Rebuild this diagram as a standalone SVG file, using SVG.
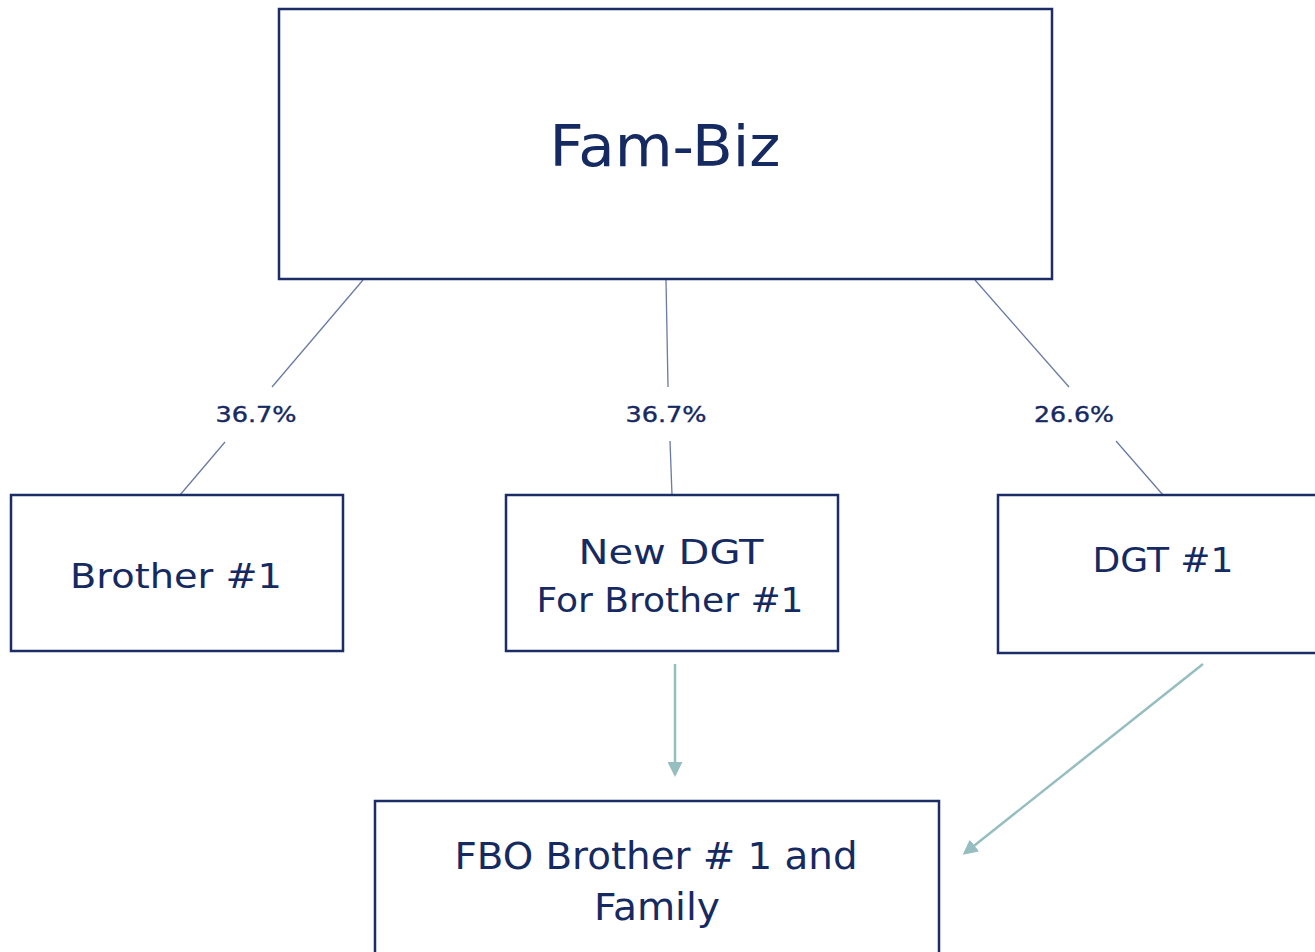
<svg xmlns="http://www.w3.org/2000/svg" width="1315" height="952" viewBox="0 0 1315 952">
  <style>
    .box { fill: #ffffff; stroke: #1b2c66; stroke-width: 2.5; }
    .label { fill: #162a62; font-family: "DejaVu Sans", Verdana, sans-serif; text-anchor: middle; }
    .pct { fill: #162a62; font-family: "DejaVu Sans", Verdana, sans-serif; font-size: 22px; text-anchor: middle; stroke: #162a62; stroke-width: 0.4; }
    .link { stroke: #6c7aa3; stroke-width: 1.3; fill: none; }
    .flow { stroke: #96bec1; stroke-width: 2.5; fill: none; marker-end: url(#head); }
  </style>
  <defs>
    <marker id="head" viewBox="0 0 10 10" refX="8" refY="5" markerWidth="6" markerHeight="6" markerUnits="strokeWidth" orient="auto">
      <path d="M0,0 L10,5 L0,10 z" fill="#96bec1"/>
    </marker>
  </defs>
  <rect width="1315" height="952" fill="#ffffff"/>

  <g id="connectors">
    <!-- ownership links, broken around their percentage labels -->
    <line class="link" x1="363" y1="280" x2="272" y2="387"/>
    <line class="link" x1="225" y1="442" x2="180" y2="495"/>
    <text class="pct" x="256" y="422" textLength="81" lengthAdjust="spacingAndGlyphs">36.7%</text>

    <line class="link" x1="666" y1="280" x2="668" y2="387"/>
    <line class="link" x1="670" y1="441" x2="672" y2="495"/>
    <text class="pct" x="666" y="422" textLength="81" lengthAdjust="spacingAndGlyphs">36.7%</text>

    <line class="link" x1="975" y1="280" x2="1069" y2="387"/>
    <line class="link" x1="1116" y1="441" x2="1163" y2="495"/>
    <text class="pct" x="1074" y="422" textLength="80" lengthAdjust="spacingAndGlyphs">26.6%</text>

    <!-- beneficiary flows -->
    <line class="flow" x1="675" y1="664" x2="675" y2="774"/>
    <line class="flow" x1="1203" y1="664" x2="965" y2="853"/>
  </g>

  <g id="fam-biz">
    <rect class="box" x="279" y="9" width="773" height="270"/>
    <text class="label" x="665" y="166" font-size="57" textLength="231" lengthAdjust="spacingAndGlyphs">Fam-Biz</text>
  </g>

  <g id="brother-1">
    <rect class="box" x="11" y="495" width="332" height="156"/>
    <text class="label" x="176" y="588" font-size="34" textLength="212" lengthAdjust="spacingAndGlyphs">Brother #1</text>
  </g>

  <g id="new-dgt">
    <rect class="box" x="506" y="495" width="332" height="156"/>
    <text class="label" x="671" y="564" font-size="34" textLength="185" lengthAdjust="spacingAndGlyphs">New DGT</text>
    <text class="label" x="670" y="612" font-size="34" textLength="267" lengthAdjust="spacingAndGlyphs">For Brother #1</text>
  </g>

  <g id="dgt-1">
    <rect class="box" x="998" y="495" width="330" height="158"/>
    <text class="label" x="1163" y="572" font-size="34" textLength="141" lengthAdjust="spacingAndGlyphs">DGT #1</text>
  </g>

  <g id="fbo">
    <rect class="box" x="375" y="801" width="564" height="170"/>
    <text class="label" x="656" y="869" font-size="37" textLength="403" lengthAdjust="spacingAndGlyphs">FBO Brother # 1 and</text>
    <text class="label" x="657" y="920" font-size="37" textLength="126" lengthAdjust="spacingAndGlyphs">Family</text>
  </g>
</svg>
